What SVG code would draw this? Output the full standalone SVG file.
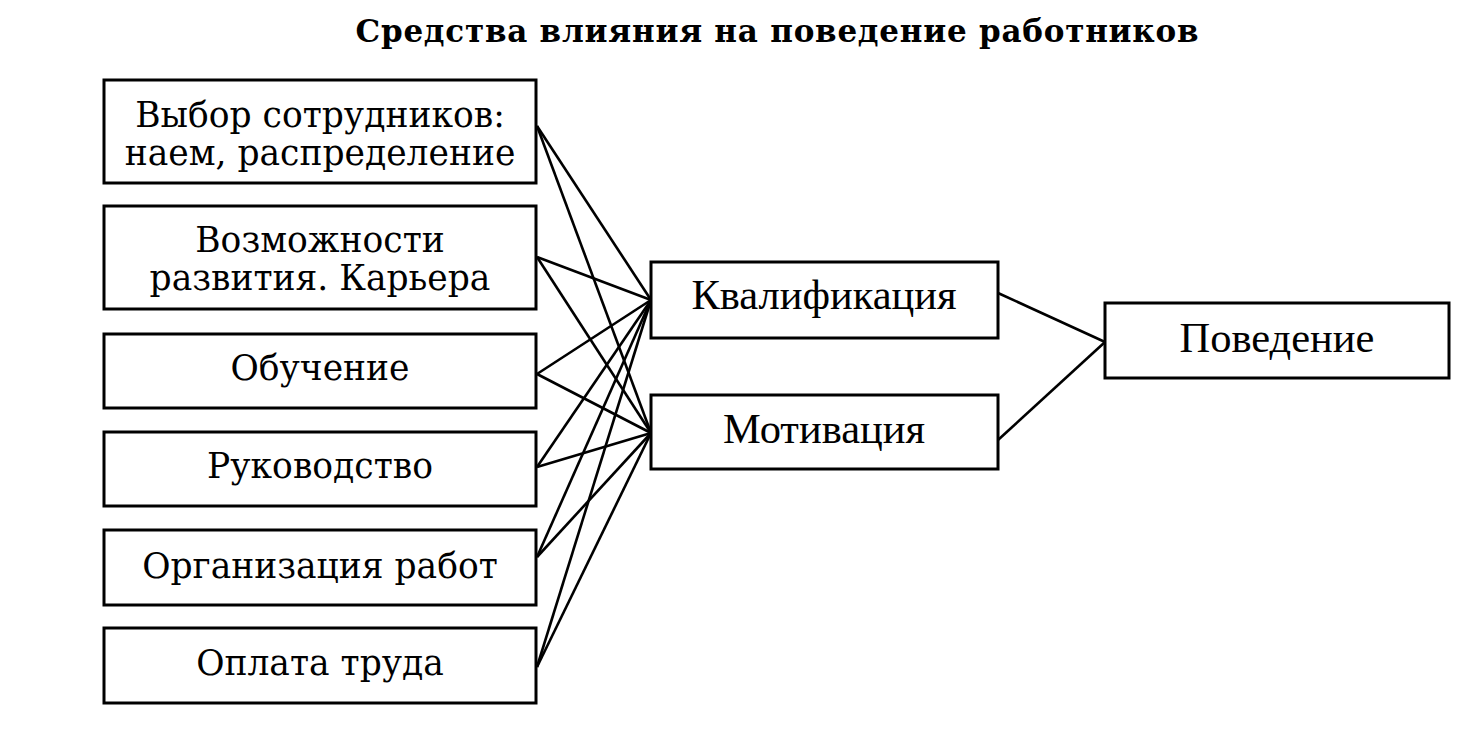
<svg xmlns="http://www.w3.org/2000/svg" width="1481" height="756" viewBox="0 0 1481 756">
<style>
.box{fill:#fff;stroke:#000;stroke-width:3}
.t{font-family:"DejaVu Serif","Liberation Serif",serif;font-size:34.5px;fill:#000;text-anchor:middle}
.m{font-family:"Liberation Serif","DejaVu Serif",serif;font-size:42.5px;fill:#000;text-anchor:middle}
.title{font-family:"DejaVu Serif","Liberation Serif",serif;font-size:31px;font-weight:bold;fill:#000;text-anchor:middle}
.c{stroke:#000;stroke-width:2.6;fill:none}
</style>
<rect width="1481" height="756" fill="#fff"/>
<text class="title" x="777" y="42" textLength="843">Средства влияния на поведение работников</text>
<g id="connectors">
<line class="c" x1="537" y1="126" x2="651" y2="300"/>
<line class="c" x1="537" y1="126" x2="651" y2="433"/>
<line class="c" x1="537" y1="257" x2="651" y2="300"/>
<line class="c" x1="537" y1="257" x2="651" y2="433"/>
<line class="c" x1="537" y1="374" x2="651" y2="300"/>
<line class="c" x1="537" y1="374" x2="651" y2="433"/>
<line class="c" x1="537" y1="467" x2="651" y2="300"/>
<line class="c" x1="537" y1="467" x2="651" y2="433"/>
<line class="c" x1="537" y1="557" x2="651" y2="300"/>
<line class="c" x1="537" y1="557" x2="651" y2="433"/>
<line class="c" x1="537" y1="667" x2="651" y2="300"/>
<line class="c" x1="537" y1="667" x2="651" y2="433"/>
<line class="c" x1="998" y1="293" x2="1105" y2="342"/>
<line class="c" x1="998" y1="440" x2="1105" y2="342"/>
</g>
<g id="n1"><rect class="box" x="104" y="80" width="432" height="103"/><text class="t" x="320" y="127">Выбор сотрудников:</text><text class="t" x="320" y="165">наем, распределение</text></g>
<g id="n2"><rect class="box" x="104" y="206" width="432" height="103"/><text class="t" x="320" y="252">Возможности</text><text class="t" x="320" y="290">развития. Карьера</text></g>
<g id="n3"><rect class="box" x="104" y="334" width="432" height="74"/><text class="t" x="320" y="380">Обучение</text></g>
<g id="n4"><rect class="box" x="104" y="432" width="432" height="74"/><text class="t" x="320" y="478">Руководство</text></g>
<g id="n5"><rect class="box" x="104" y="530" width="432" height="75"/><text class="t" x="320" y="578">Организация работ</text></g>
<g id="n6"><rect class="box" x="104" y="628" width="432" height="75"/><text class="t" x="320" y="675">Оплата труда</text></g>
<g id="n7"><rect class="box" x="651" y="262" width="347" height="76"/><text class="m" x="824" y="309">Квалификация</text></g>
<g id="n8"><rect class="box" x="651" y="395" width="347" height="74"/><text class="m" x="824" y="443">Мотивация</text></g>
<g id="n9"><rect class="box" x="1105" y="303" width="344" height="75"/><text class="m" x="1277" y="352">Поведение</text></g>
</svg>
